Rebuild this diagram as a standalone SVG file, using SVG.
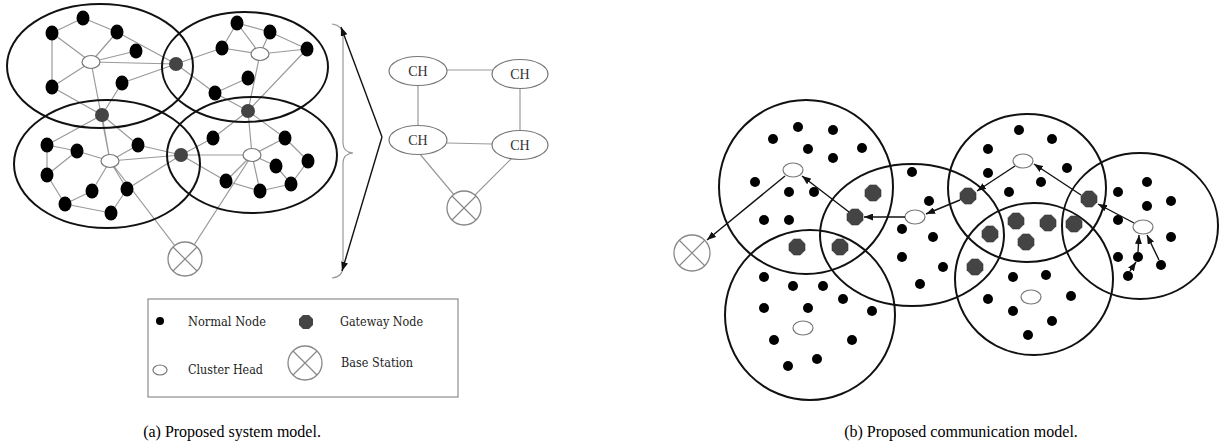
<svg xmlns="http://www.w3.org/2000/svg" xmlns:xlink="http://www.w3.org/1999/xlink" width="1219" height="448" viewBox="0 0 1219 448">
  <style>
    .cl { fill: none; stroke: #111; stroke-width: 2; }
    .e { stroke: #9a9a9a; stroke-width: 1.2; fill: none; }
    .n { fill: #000; }
    .g { fill: #444; }
    .ch { fill: #fff; stroke: #777; stroke-width: 1.2; }
    .bs { fill: #fff; stroke: #888; stroke-width: 1.3; }
    .a { stroke: #111; stroke-width: 1.4; fill: none; marker-end: url(#ah); }
    .lbl { font-family: "Liberation Serif", "DejaVu Serif", serif; fill: #333; }
    .leg { font-family: "DejaVu Serif", "Liberation Serif", serif; font-size: 12px; fill: #222; }
    .cap { font-family: "Liberation Serif", serif; font-size: 16px; fill: #000; }
  </style>
  <defs>
    <marker id="ah" markerUnits="userSpaceOnUse" markerWidth="9" markerHeight="7" refX="9" refY="3.5" orient="auto">
      <path d="M0,0 L9,3.5 L0,7 z" fill="#111"/>
    </marker>
    <path id="oct" d="M-3.3,-8 L3.3,-8 L8,-3.3 L8,3.3 L3.3,8 L-3.3,8 L-8,3.3 L-8,-3.3 z" fill="#444" stroke="#333" stroke-width="0.6"/>
    <g id="bsx">
      <circle r="17" class="bs"/>
      <path d="M-12,-12 L12,12 M12,-12 L-12,12" stroke="#888" stroke-width="1.2"/>
    </g>
  </defs>
  <rect width="1219" height="448" fill="#fff"/>

  <!-- ===== (a) system model ===== -->
  <g id="sys-links">
    <path class="e" d="
      M83,18 L52,33 M83,18 L117,32 M52,33 L91,62 M52,33 L52,87 M117,32 L91,62 M117,32 L176,64
      M136,51 L91,62 M91,62 L176,64 M91,62 L52,87 M52,87 L102,115 M122,83 L102,115 M122,83 L176,64
      M91,62 L110,161
      M176,64 L222,48 M222,48 L237,23 M237,23 L270,32 M237,23 L260,54 M222,48 L260,54 M270,32 L307,49
      M270,32 L260,54 M260,54 L307,49 M260,54 L248,111 M307,49 L248,111 M248,78 L215,93 M215,93 L176,64 M215,93 L248,111
      M102,115 L47,145 M102,115 L138,145 M102,115 L110,161 M47,145 L77,151 M47,145 L47,175 M77,151 L47,175
      M77,151 L110,161 M138,145 L110,161 M138,145 L181,155 M110,161 L181,155 M110,161 L92,191 M110,161 L127,189
      M47,175 L65,204 M92,191 L65,204 M65,204 L111,213 M127,189 L111,213 M127,189 L181,155 M110,161 L185,259
      M248,111 L213,138 M248,111 L252,155 M248,111 L285,138 M181,155 L213,138 M181,155 L252,155 M181,155 L226,181
      M285,138 L252,155 M285,138 L308,161 M252,155 L276,166 M276,166 L291,184 M308,161 L291,184
      M252,155 L226,181 M252,155 L260,191 M226,181 L260,191 M260,191 L291,184 M252,155 L185,259"/>
  </g>
  <g id="sys-clusters">
    <ellipse class="cl" cx="100" cy="66" rx="93" ry="62"/>
    <ellipse class="cl" cx="245" cy="67" rx="83" ry="55"/>
    <ellipse class="cl" cx="107" cy="164" rx="93" ry="64"/>
    <ellipse class="cl" cx="252" cy="155" rx="85" ry="58"/>
  </g>
  <g id="sys-normal-nodes" class="n">
    <ellipse cx="83" cy="18" rx="6.5" ry="7.5"/>
    <ellipse cx="52" cy="33" rx="6.5" ry="7.5"/>
    <ellipse cx="117" cy="32" rx="6.5" ry="7.5"/>
    <ellipse cx="136" cy="51" rx="6.5" ry="7.5"/>
    <ellipse cx="52" cy="87" rx="6.5" ry="7.5"/>
    <ellipse cx="122" cy="83" rx="6.5" ry="7.5"/>
    <ellipse cx="237" cy="23" rx="6.5" ry="7.5"/>
    <ellipse cx="270" cy="32" rx="6.5" ry="7.5"/>
    <ellipse cx="222" cy="48" rx="6.5" ry="7.5"/>
    <ellipse cx="307" cy="49" rx="6.5" ry="7.5"/>
    <ellipse cx="248" cy="78" rx="6.5" ry="7.5"/>
    <ellipse cx="215" cy="93" rx="6.5" ry="7.5"/>
    <ellipse cx="47" cy="145" rx="6.5" ry="7.5"/>
    <ellipse cx="77" cy="151" rx="6.5" ry="7.5"/>
    <ellipse cx="138" cy="145" rx="6.5" ry="7.5"/>
    <ellipse cx="47" cy="175" rx="6.5" ry="7.5"/>
    <ellipse cx="92" cy="191" rx="6.5" ry="7.5"/>
    <ellipse cx="127" cy="189" rx="6.5" ry="7.5"/>
    <ellipse cx="65" cy="204" rx="6.5" ry="7.5"/>
    <ellipse cx="111" cy="213" rx="6.5" ry="7.5"/>
    <ellipse cx="213" cy="138" rx="6.5" ry="7.5"/>
    <ellipse cx="285" cy="138" rx="6.5" ry="7.5"/>
    <ellipse cx="276" cy="166" rx="6.5" ry="7.5"/>
    <ellipse cx="308" cy="161" rx="6.5" ry="7.5"/>
    <ellipse cx="226" cy="181" rx="6.5" ry="7.5"/>
    <ellipse cx="260" cy="191" rx="6.5" ry="7.5"/>
    <ellipse cx="291" cy="184" rx="6.5" ry="7.5"/>
  </g>
  <g id="sys-gateways" class="g">
    <circle cx="176" cy="64" r="7"/>
    <circle cx="102" cy="115" r="7"/>
    <circle cx="181" cy="155" r="7"/>
    <circle cx="248" cy="111" r="7"/>
  </g>
  <g id="sys-heads">
    <ellipse class="ch" cx="91" cy="62" rx="9" ry="6.5"/>
    <ellipse class="ch" cx="260" cy="54" rx="9" ry="6.5"/>
    <ellipse class="ch" cx="110" cy="161" rx="9" ry="6.5"/>
    <ellipse class="ch" cx="252" cy="155" rx="9" ry="6.5"/>
  </g>
  <g id="sys-base-station">
    <use xlink:href="#bsx" x="185" y="259"/>
  </g>

  <!-- brace and fold-out arrows -->
  <g id="brace">
    <path d="M332,24 Q343,25 343,37 L343,143 Q343,152 353,153 Q343,154 343,163 L343,266 Q343,277 332,278" fill="none" stroke="#999" stroke-width="1.2"/>
    <path d="M382,137 L341,27" class="a"/>
    <path d="M382,137 L342,271" class="a"/>
  </g>

  <!-- cluster-head overlay graph -->
  <g id="ch-links">
    <path class="e" d="M447,70 L493,70 M418,85 L418,126 M520,88 L520,130 M447,143 L492,144 M419,153 L455,196 M512,158 L474,196"/>
  </g>
  <g id="ch-1"><ellipse class="ch" cx="418" cy="71" rx="29" ry="14.5"/><text class="lbl" x="418" y="75.5" font-size="14" text-anchor="middle">CH</text></g>
  <g id="ch-2"><ellipse class="ch" cx="520" cy="74" rx="28" ry="14.5"/><text class="lbl" x="520" y="78.5" font-size="14" text-anchor="middle">CH</text></g>
  <g id="ch-3"><ellipse class="ch" cx="418" cy="140" rx="29" ry="14.5"/><text class="lbl" x="418" y="144.5" font-size="14" text-anchor="middle">CH</text></g>
  <g id="ch-4"><ellipse class="ch" cx="520" cy="145" rx="28" ry="14.5"/><text class="lbl" x="520" y="149.5" font-size="14" text-anchor="middle">CH</text></g>
  <g id="ch-bs"><use xlink:href="#bsx" x="464" y="208"/></g>

  <!-- legend -->
  <g id="legend">
    <rect x="148" y="299" width="310" height="98" fill="none" stroke="#777" stroke-width="1"/>
    <circle cx="160" cy="321" r="4" class="n"/>
    <text class="leg" x="188" y="326" textLength="78" lengthAdjust="spacingAndGlyphs">Normal Node</text>
    <path d="M303,315 L309,315 L313,319 L313,325 L309,329 L303,329 L299,325 L299,319 z" class="g"/>
    <text class="leg" x="340" y="326" textLength="83" lengthAdjust="spacingAndGlyphs">Gateway Node</text>
    <ellipse class="ch" cx="160" cy="370" rx="7" ry="5"/>
    <text class="leg" x="188" y="374" textLength="75" lengthAdjust="spacingAndGlyphs">Cluster Head</text>
    <use xlink:href="#bsx" x="305" y="363"/>
    <text class="leg" x="341" y="367" textLength="72" lengthAdjust="spacingAndGlyphs">Base Station</text>
  </g>

  <!-- ===== (b) communication model ===== -->
  <g id="comm-clusters">
    <circle class="cl" cx="806" cy="187" r="87"/>
    <circle class="cl" cx="810" cy="315" r="85"/>
    <ellipse class="cl" cx="912" cy="235" rx="92" ry="71"/>
    <ellipse class="cl" cx="1027" cy="188" rx="79" ry="74"/>
    <ellipse class="cl" cx="1034" cy="279" rx="79" ry="76"/>
    <ellipse class="cl" cx="1140" cy="226" rx="78" ry="73"/>
  </g>
  <g id="comm-normal-nodes" class="n">
    <circle cx="798" cy="127" r="5"/><circle cx="833" cy="130" r="5"/><circle cx="773" cy="139" r="5"/>
    <circle cx="808" cy="149" r="5"/><circle cx="833" cy="158" r="5"/><circle cx="862" cy="148" r="5"/>
    <circle cx="755" cy="182" r="5"/><circle cx="789" cy="192" r="5"/><circle cx="814" cy="192" r="5"/>
    <circle cx="764" cy="220" r="5"/><circle cx="789" cy="220" r="5"/>
    <circle cx="764" cy="277" r="5"/><circle cx="793" cy="286" r="5"/><circle cx="823" cy="286" r="5"/>
    <circle cx="843" cy="299" r="5"/><circle cx="764" cy="308" r="5"/><circle cx="808" cy="308" r="5"/>
    <circle cx="872" cy="311" r="5"/><circle cx="774" cy="340" r="5"/><circle cx="852" cy="340" r="5"/>
    <circle cx="817" cy="359" r="5"/><circle cx="788" cy="366" r="5"/>
    <circle cx="912" cy="172" r="5"/><circle cx="929" cy="201" r="5"/><circle cx="902" cy="229" r="5"/>
    <circle cx="933" cy="237" r="5"/><circle cx="902" cy="257" r="5"/><circle cx="943" cy="267" r="5"/>
    <circle cx="920" cy="284" r="5"/>
    <circle cx="1019" cy="130" r="5"/><circle cx="1052" cy="139" r="5"/><circle cx="988" cy="149" r="5"/>
    <circle cx="988" cy="173" r="5"/><circle cx="1067" cy="168" r="5"/><circle cx="1041" cy="182" r="5"/>
    <circle cx="1009" cy="192" r="5"/>
    <circle cx="1013" cy="277" r="5"/><circle cx="1046" cy="275" r="5"/><circle cx="988" cy="299" r="5"/>
    <circle cx="1013" cy="311" r="5"/><circle cx="1071" cy="296" r="5"/><circle cx="1052" cy="321" r="5"/>
    <circle cx="1028" cy="335" r="5"/>
    <circle cx="1118" cy="192" r="5"/><circle cx="1147" cy="182" r="5"/><circle cx="1147" cy="206" r="5"/>
    <circle cx="1171" cy="201" r="5"/><circle cx="1118" cy="220" r="5"/><circle cx="1171" cy="237" r="5"/>
    <circle cx="1118" cy="257" r="5"/><circle cx="1138" cy="257" r="5"/><circle cx="1161" cy="265" r="5"/>
    <circle cx="1128" cy="276" r="5"/>
  </g>
  <g id="comm-gateways">
    <use xlink:href="#oct" x="855" y="217"/>
    <use xlink:href="#oct" x="873" y="193"/>
    <use xlink:href="#oct" x="797" y="247"/>
    <use xlink:href="#oct" x="840" y="247"/>
    <use xlink:href="#oct" x="968" y="196"/>
    <use xlink:href="#oct" x="990" y="234"/>
    <use xlink:href="#oct" x="975" y="267"/>
    <use xlink:href="#oct" x="1016" y="221"/>
    <use xlink:href="#oct" x="1048" y="223"/>
    <use xlink:href="#oct" x="1074" y="224"/>
    <use xlink:href="#oct" x="1026" y="242"/>
    <use xlink:href="#oct" x="1089" y="199"/>
  </g>
  <g id="comm-heads">
    <ellipse class="ch" cx="793" cy="170" rx="10" ry="7"/>
    <ellipse class="ch" cx="915" cy="217" rx="10" ry="7"/>
    <ellipse class="ch" cx="1023" cy="161" rx="10" ry="7"/>
    <ellipse class="ch" cx="1143" cy="227" rx="10" ry="7"/>
    <ellipse class="ch" cx="803" cy="328" rx="10" ry="7"/>
    <ellipse class="ch" cx="1031" cy="297" rx="10" ry="7"/>
  </g>
  <g id="comm-base-station">
    <circle cx="692" cy="253" r="18" class="bs"/>
    <path d="M679,240 L705,266 M705,240 L679,266" stroke="#888" stroke-width="1.2"/>
  </g>
  <g id="comm-routes">
    <path class="a" d="M785,176 L707,240"/>
    <path class="a" d="M849,212 L802,176"/>
    <path class="a" d="M905,217 L864,217"/>
    <path class="a" d="M960,200 L926,214"/>
    <path class="a" d="M1015,166 L977,191"/>
    <path class="a" d="M1081,195 L1034,164"/>
    <path class="a" d="M1134,223 L1098,204"/>
    <path class="a" d="M1138,252 L1139,235"/>
    <path class="a" d="M1130,271 L1136,262"/>
    <path class="a" d="M1159,260 L1147,235"/>
  </g>

  <!-- captions -->
  <text class="cap" x="232" y="437" text-anchor="middle">(a) Proposed system model.</text>
  <text class="cap" x="961" y="437" text-anchor="middle">(b) Proposed communication model.</text>
</svg>
